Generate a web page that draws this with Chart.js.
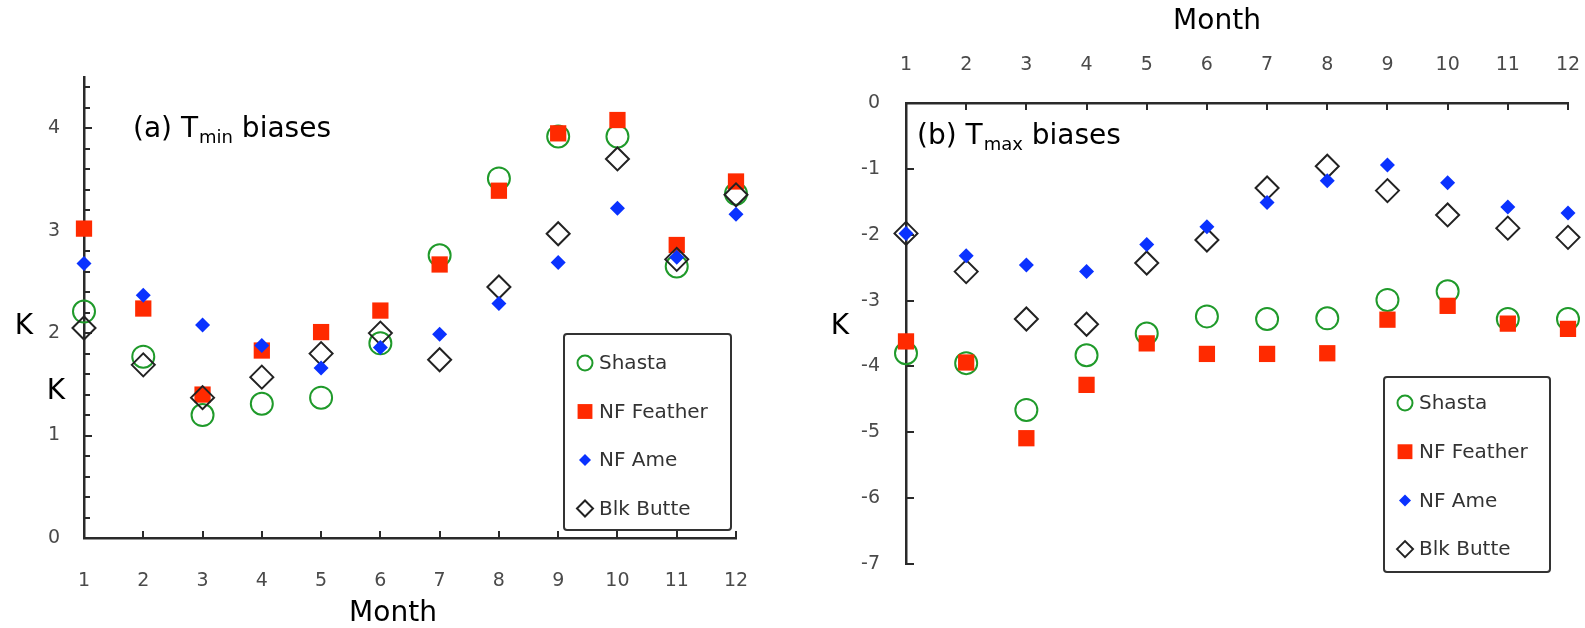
<!DOCTYPE html>
<html>
<head>
<meta charset="utf-8">
<title>Tmin / Tmax biases</title>
<script src="https://cdn.jsdelivr.net/npm/chart.js@4.4.1/dist/chart.umd.min.js"></script>
<style>
    html, body { margin: 0; padding: 0; background: #fff; }
    body { width: 1585px; height: 628px; position: relative; overflow: hidden; }
    .panel { position: absolute; top: 0; }
    #panelA { left: 0; }
    #panelB { left: 790px; }
</style>
</head>
<body>
<div class="panel" id="panelA"><canvas id="tminChart" width="780" height="628"></canvas></div>
<div class="panel" id="panelB"><canvas id="tmaxChart" width="795" height="628"></canvas></div>
<script>
// months on the x axis
const months = [1, 2, 3, 4, 5, 6, 7, 8, 9, 10, 11, 12];
const seriesNames = ['Shasta', 'NF Feather', 'NF Ame', 'Blk Butte'];

// (a) Tmin biases, K
const shastaMin  = [2.21, 1.77, 1.20, 1.31, 1.37, 1.90, 2.76, 3.51, 3.92, 3.92, 2.65, 3.36];
const featherMin = [3.02, 2.24, 1.40, 1.83, 2.01, 2.22, 2.67, 3.39, 3.95, 4.08, 2.86, 3.48];
const ameMin     = [2.68, 2.37, 2.08, 1.88, 1.66, 1.86, 1.99, 2.29, 2.69, 3.22, 2.74, 3.16];
const butteMin   = [2.05, 1.69, 1.37, 1.57, 1.80, 2.00, 1.74, 2.45, 2.97, 3.70, 2.72, 3.35];

// (b) Tmax biases, K
const shastaMax  = [-3.80, -3.95, -4.66, -3.83, -3.50, -3.24, -3.28, -3.27, -2.99, -2.86, -3.28, -3.28];
const featherMax = [-3.62, -3.94, -5.09, -4.28, -3.65, -3.81, -3.81, -3.80, -3.29, -3.08, -3.35, -3.43];
const ameMax     = [-1.98, -2.32, -2.46, -2.56, -2.15, -1.88, -1.51, -1.18, -0.94, -1.21, -1.58, -1.67];
const butteMax   = [-1.98, -2.56, -3.28, -3.36, -2.43, -2.08, -1.29, -0.96, -1.33, -1.70, -1.90, -2.04];

// tick labels
const xTicks = [1, 2, 3, 4, 5, 6, 7, 8, 9, 10, 11, 12];
const yTicksA = [0, 1, 2, 3, 4];
const yTicksB = [0, -1, -2, -3, -4, -5, -6, -7];

const FONT = '"DejaVu Sans", Verdana, sans-serif';
const AXIS_COLOR = '#2a2a2a';
const LABEL_COLOR = '#4a4a4a';

// marker look for each station
const markerStyles = [
    { pointStyle: 'circle',  radius: 11,   fill: 'rgba(0,0,0,0)', stroke: '#1f9a2a', width: 2, legendRadius: 7.5, order: 3 },
    { pointStyle: 'rect',    radius: 11.5, fill: '#ff2a00',       stroke: '#ff2a00', width: 0, legendRadius: 10.5, order: 2 },
    { pointStyle: 'rectRot', radius: 7.5,  fill: '#0a32ff',       stroke: '#0a32ff', width: 0, legendRadius: 6, order: 0 },
    { pointStyle: 'rectRot', radius: 11.5, fill: 'rgba(0,0,0,0)', stroke: '#222222', width: 2, legendRadius: 8, order: 1 }
];

const toPoints = arr => months.map((m, i) => ({ x: m, y: arr[i] }));

const makeDatasets = (lists) => lists.map((arr, i) => {
    const st = markerStyles[i];
    return {
        label: seriesNames[i],
        data: toPoints(arr),
        pointStyle: st.pointStyle,
        pointRadius: st.radius,
        pointHoverRadius: st.radius,
        backgroundColor: st.fill,
        borderColor: st.stroke,
        pointBorderWidth: st.width,
        borderWidth: st.width,
        order: st.order,
        clip: false
    };
});

/**
 * ticks drawn inside the plot, like the original figure
 */
const innerTicks = {
    id: 'innerTicks',
    beforeDatasetsDraw(chart, args, opts) {
        const { ctx, chartArea } = chart;
        const xs = chart.scales.x, ys = chart.scales.y;
        ctx.save();
        ctx.strokeStyle = AXIS_COLOR;
        ctx.lineWidth = 2;
        const yEdge = opts.xAtTop ? chartArea.top : chartArea.bottom;
        const dir = opts.xAtTop ? 1 : -1;
        xTicks.forEach(v => {
            const px = Math.round(xs.getPixelForValue(v));
            ctx.beginPath();
            ctx.moveTo(px, yEdge);
            ctx.lineTo(px, yEdge + dir * 7);
            ctx.stroke();
        });
        opts.yMajor.forEach(v => {
            const py = Math.round(ys.getPixelForValue(v));
            ctx.beginPath();
            ctx.moveTo(chartArea.left, py);
            ctx.lineTo(chartArea.left + 8, py);
            ctx.stroke();
        });
        (opts.yMinor || []).forEach(v => {
            const py = Math.round(ys.getPixelForValue(v));
            ctx.beginPath();
            ctx.moveTo(chartArea.left, py);
            ctx.lineTo(chartArea.left + 6, py);
            ctx.stroke();
        });
        ctx.restore();
    }
};

function drawMarker(ctx, st, x, y, r) {
    ctx.beginPath();
    if (st.pointStyle === 'circle') {
        ctx.arc(x, y, r, 0, Math.PI * 2);
    } else if (st.pointStyle === 'rect') {
        const s = r * Math.SQRT1_2;
        ctx.rect(x - s, y - s, 2 * s, 2 * s);
    } else {
        ctx.moveTo(x - r, y);
        ctx.lineTo(x, y - r);
        ctx.lineTo(x + r, y);
        ctx.lineTo(x, y + r);
        ctx.closePath();
    }
    ctx.fillStyle = st.fill;
    ctx.fill();
    if (st.width > 0) {
        ctx.strokeStyle = st.stroke;
        ctx.lineWidth = st.width;
        ctx.stroke();
    }
}

/**
 * boxed legend + free text (panel title, K, Month)
 */
const panelText = {
    id: 'panelText',
    afterDraw(chart, args, opts) {
        const { ctx } = chart;
        ctx.save();

        // legend box
        const lg = opts.legend;
        ctx.strokeStyle = '#333';
        ctx.lineWidth = 2;
        ctx.beginPath();
        ctx.roundRect(lg.x, lg.y, lg.w, lg.h, 3);
        ctx.stroke();
        ctx.font = '20px ' + FONT;
        ctx.textBaseline = 'middle';
        ctx.textAlign = 'left';
        seriesNames.forEach((name, i) => {
            const st = markerStyles[i];
            const cy = lg.y + lg.first + i * lg.step;
            drawMarker(ctx, st, lg.x + 21, cy, st.legendRadius);
            ctx.fillStyle = '#333';
            ctx.fillText(name, lg.x + 35, cy + 1);
        });

        // panel title with subscript
        const t = opts.title;
        ctx.fillStyle = '#000';
        ctx.textBaseline = 'alphabetic';
        ctx.font = '28px ' + FONT;
        let x = t.x;
        ctx.fillText(t.pre, x, t.y);
        x += ctx.measureText(t.pre).width;
        ctx.font = '18px ' + FONT;
        ctx.fillText(t.sub, x + 1, t.y + 6);
        x += ctx.measureText(t.sub).width + 1;
        ctx.font = '28px ' + FONT;
        ctx.fillText(t.post, x, t.y);

        // free labels
        ctx.textAlign = 'center';
        ctx.textBaseline = 'middle';
        opts.labels.forEach(l => ctx.fillText(l.text, l.x, l.y));
        ctx.restore();
    }
};

const baseTicks = { color: LABEL_COLOR, font: { family: FONT, size: 19 } };

const tminChart = new Chart(document.getElementById('tminChart'), {
    type: 'scatter',
    data: { datasets: makeDatasets([shastaMin, featherMin, ameMin, butteMin]) },
    plugins: [innerTicks, panelText],
    options: {
        responsive: false,
        animation: false,
        events: [],
        layout: { padding: { left: 0, top: 77, right: 44, bottom: 0 } },
        scales: {
            x: {
                type: 'linear',
                position: 'bottom',
                min: 1,
                max: 12,
                afterBuildTicks: s => { s.ticks = xTicks.map(v => ({ value: v })); },
                afterFit: s => { s.height = 90; s.paddingLeft = 0; s.paddingRight = 0; },
                ticks: { ...baseTicks, padding: 32, maxRotation: 0 },
                grid: { display: true, drawOnChartArea: false, drawTicks: false },
                border: { display: true, color: AXIS_COLOR, width: 2.5 }
            },
            y: {
                type: 'linear',
                min: 0,
                max: 4.5,
                afterBuildTicks: s => { s.ticks = yTicksA.map(v => ({ value: v })); },
                afterFit: s => { s.width = 84; s.paddingTop = 0; s.paddingBottom = 0; },
                ticks: { ...baseTicks, padding: 24 },
                grid: { display: true, drawOnChartArea: false, drawTicks: false },
                border: { display: true, color: AXIS_COLOR, width: 2.5 }
            }
        },
        plugins: {
            legend: { display: false },
            tooltip: { enabled: false },
            innerTicks: {
                xAtTop: false,
                yMajor: yTicksA,
                yMinor: (() => { const out = []; for (let k = 1; k < 23; k++) if (k % 5) out.push(k / 5); return out; })()
            },
            panelText: {
                legend: { x: 564, y: 334, w: 167, h: 196, first: 29, step: 48.5 },
                title: { x: 133, y: 137, pre: '(a) T', sub: 'min', post: ' biases' },
                labels: [
                    { text: 'K', x: 24, y: 327 },
                    { text: 'K', x: 56, y: 392 },
                    { text: 'Month', x: 393, y: 614 }
                ]
            }
        }
    }
});

const tmaxChart = new Chart(document.getElementById('tmaxChart'), {
    type: 'scatter',
    data: { datasets: makeDatasets([shastaMax, featherMax, ameMax, butteMax]) },
    plugins: [innerTicks, panelText],
    options: {
        responsive: false,
        animation: false,
        events: [],
        layout: { padding: { left: 0, top: 0, right: 17, bottom: 64 } },
        scales: {
            x: {
                type: 'linear',
                position: 'top',
                min: 1,
                max: 12,
                afterBuildTicks: s => { s.ticks = xTicks.map(v => ({ value: v })); },
                afterFit: s => { s.height = 103; s.paddingLeft = 0; s.paddingRight = 0; },
                ticks: { ...baseTicks, padding: 27, maxRotation: 0 },
                grid: { display: true, drawOnChartArea: false, drawTicks: false },
                border: { display: true, color: AXIS_COLOR, width: 2.5 }
            },
            y: {
                type: 'linear',
                min: -7,
                max: 0,
                afterBuildTicks: s => { s.ticks = yTicksB.map(v => ({ value: v })); },
                afterFit: s => { s.width = 116; s.paddingTop = 0; s.paddingBottom = 0; },
                ticks: { ...baseTicks, padding: 26 },
                grid: { display: true, drawOnChartArea: false, drawTicks: false },
                border: { display: true, color: AXIS_COLOR, width: 2.5 }
            }
        },
        plugins: {
            legend: { display: false },
            tooltip: { enabled: false },
            innerTicks: { xAtTop: true, yMajor: yTicksB },
            panelText: {
                legend: { x: 594, y: 377, w: 166, h: 195, first: 26, step: 48.7 },
                title: { x: 127, y: 144, pre: '(b) T', sub: 'max', post: ' biases' },
                labels: [
                    { text: 'K', x: 50, y: 327 },
                    { text: 'Month', x: 427, y: 22 }
                ]
            }
        }
    }
});
</script>
</body>
</html>
